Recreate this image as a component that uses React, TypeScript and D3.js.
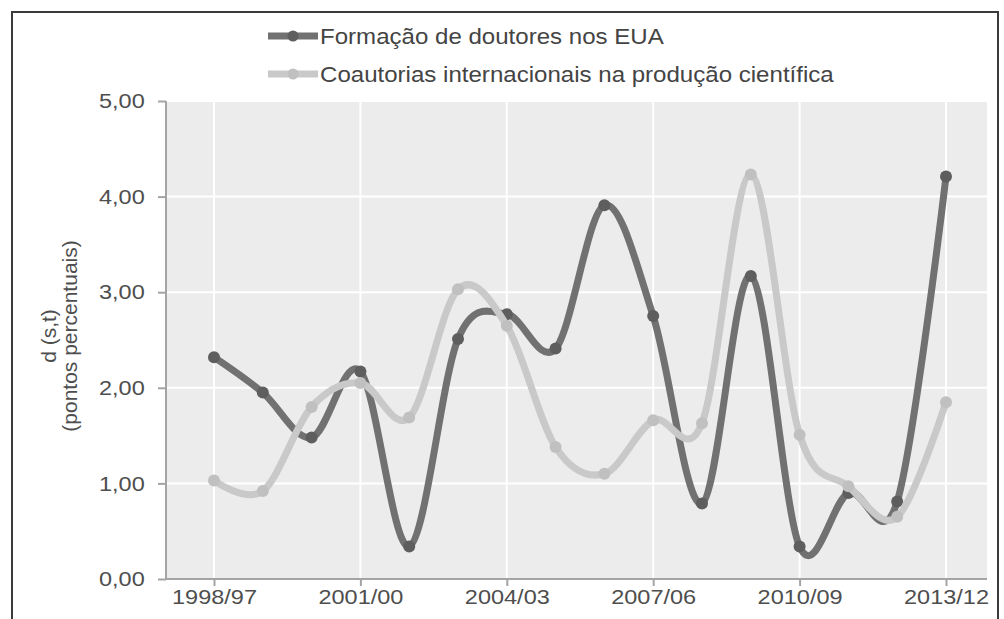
import React, { useEffect, useRef } from "react";
import * as d3 from "d3";

// categories on the x axis (one per year pair)
const categories = [
  "1998/97", "1999/98", "2000/99", "2001/00", "2002/01", "2003/02", "2004/03", "2005/04",
  "2006/05", "2007/06", "2008/07", "2009/08", "2010/09", "2011/10", "2012/11", "2013/12",
];
const tickLabels = ["1998/97", "2001/00", "2004/03", "2007/06", "2010/09", "2013/12"];
const yTicks = [0, 1, 2, 3, 4, 5];

const doutoresEUA = [2.32, 1.95, 1.48, 2.17, 0.34, 2.51, 2.77, 2.41, 3.91, 2.75, 0.79, 3.17, 0.34, 0.9, 0.81, 4.21];
const coautorias = [1.03, 0.92, 1.8, 2.05, 1.69, 3.03, 2.65, 1.38, 1.1, 1.66, 1.63, 4.23, 1.51, 0.97, 0.65, 1.85];

const seriesNames = ["Formação de doutores nos EUA", "Coautorias internacionais na produção científica"];

const App: React.FC = () => {
  const svgRef = useRef<SVGSVGElement | null>(null);

  useEffect(() => {
    if (!svgRef.current) return;
    const svg = d3.select(svgRef.current);
    svg.selectAll("*").remove();

    const width = 1004;
    const height = 619;
    const plot = { left: 166, right: 987, top: 101, bottom: 579 };
    const font = "'Liberation Sans', Arial, sans-serif";
    const stretch = "scale(1.12,1)"; // source text looks horizontally stretched

    const x = d3.scalePoint<string>().domain(categories).range([214, 946]);
    const y = d3.scaleLinear().domain([0, 5]).range([plot.bottom, plot.top]);

    // outer frame
    svg.append("rect")
      .attr("x", 12).attr("y", 12)
      .attr("width", width - 6 - 12).attr("height", height + 10)
      .attr("fill", "#fff").attr("stroke", "#3a3a3a").attr("stroke-width", 2);

    // plot area
    svg.append("rect")
      .attr("x", plot.left).attr("y", plot.top)
      .attr("width", plot.right - plot.left).attr("height", plot.bottom - plot.top)
      .attr("fill", "#ececec");

    // grid
    svg.append("g").selectAll("line")
      .data(yTicks.filter(d => d > 0))
      .enter().append("line")
      .attr("x1", plot.left).attr("x2", plot.right)
      .attr("y1", d => y(d)).attr("y2", d => y(d))
      .attr("stroke", "#fff").attr("stroke-width", 2);

    svg.append("g").selectAll("line")
      .data(tickLabels)
      .enter().append("line")
      .attr("x1", d => x(d)!).attr("x2", d => x(d)!)
      .attr("y1", plot.top).attr("y2", plot.bottom)
      .attr("stroke", "#fff").attr("stroke-width", 2);

    // axes
    const fmt = (d: d3.NumberValue) => d3.format(".2f")(+d).replace(".", ",");
    const yAxis = svg.append("g")
      .attr("transform", `translate(${plot.left},0)`)
      .call(d3.axisLeft(y).tickValues(yTicks).tickSize(8).tickSizeOuter(0).tickPadding(11).tickFormat(fmt));
    yAxis.select(".domain").remove();
    yAxis.selectAll("line").attr("stroke", "#a4a4a4").attr("stroke-width", 2);
    yAxis.selectAll("text")
      .attr("transform", stretch)
      .style("font-family", font).style("font-size", "21px").attr("fill", "#4e4e4e");

    const xAxis = svg.append("g")
      .attr("transform", `translate(0,${plot.bottom})`)
      .call(d3.axisBottom(x).tickValues(tickLabels).tickSize(7).tickSizeOuter(0).tickPadding(3));
    xAxis.select(".domain").remove();
    xAxis.selectAll("line").attr("stroke", "#a4a4a4").attr("stroke-width", 2);
    xAxis.selectAll("text")
      .attr("transform", stretch)
      .style("font-family", font).style("font-size", "21px").attr("fill", "#4e4e4e");

    svg.append("line")
      .attr("x1", plot.left).attr("x2", plot.left)
      .attr("y1", plot.top).attr("y2", plot.bottom + 1)
      .attr("stroke", "#a4a4a4").attr("stroke-width", 2);
    svg.append("line")
      .attr("x1", plot.left - 1).attr("x2", plot.right)
      .attr("y1", plot.bottom).attr("y2", plot.bottom)
      .attr("stroke", "#a4a4a4").attr("stroke-width", 2);

    // y axis title
    const title = svg.append("text")
      .attr("transform", `translate(0,${(plot.top + plot.bottom) / 2 - 4}) rotate(-90)`)
      .attr("text-anchor", "middle")
      .style("font-family", font).style("font-size", "21px").attr("fill", "#4e4e4e");
    title.append("tspan").attr("x", 0).attr("y", 56).text("d (s,t)");
    title.append("tspan").attr("x", 0).attr("y", 77).text("(pontos percentuais)");

    // series
    const series = [
      { name: seriesNames[0], values: doutoresEUA, line: "#717171", dot: "#5e5e5e" },
      { name: seriesNames[1], values: coautorias, line: "#c9c9c9", dot: "#c0c0c0" },
    ];
    const line = d3.line<number>()
      .x((_, i) => x(categories[i])!)
      .y(d => y(d))
      .curve(d3.curveCardinal.tension(0));

    series.forEach(s => {
      const g = svg.append("g");
      g.append("path")
        .attr("d", line(s.values)!)
        .attr("fill", "none").attr("stroke", s.line).attr("stroke-width", 7)
        .attr("stroke-linejoin", "round").attr("stroke-linecap", "round");
      g.selectAll("circle")
        .data(s.values)
        .enter().append("circle")
        .attr("cx", (_, i) => x(categories[i])!)
        .attr("cy", d => y(d))
        .attr("r", 6)
        .attr("fill", s.dot);
    });

    // legend
    series.forEach((s, i) => {
      const g = svg.append("g").attr("transform", `translate(268,${36 + i * 38})`);
      g.append("line").attr("x1", 0).attr("x2", 50).attr("y1", 0).attr("y2", 0)
        .attr("stroke", s.line).attr("stroke-width", 7);
      g.append("circle").attr("cx", 25).attr("cy", 0).attr("r", 5.5).attr("fill", s.dot);
      g.append("text")
        .attr("transform", `translate(52,0) ${stretch}`)
        .attr("dy", "0.35em")
        .style("font-family", font).style("font-size", "21.5px").attr("fill", "#444")
        .text(s.name);
    });
  }, []);

  return (
    <svg
      ref={svgRef}
      width={1004}
      height={619}
      style={{ position: "absolute", left: 0, top: 0, display: "block" }}
    />
  );
};

export default App;
